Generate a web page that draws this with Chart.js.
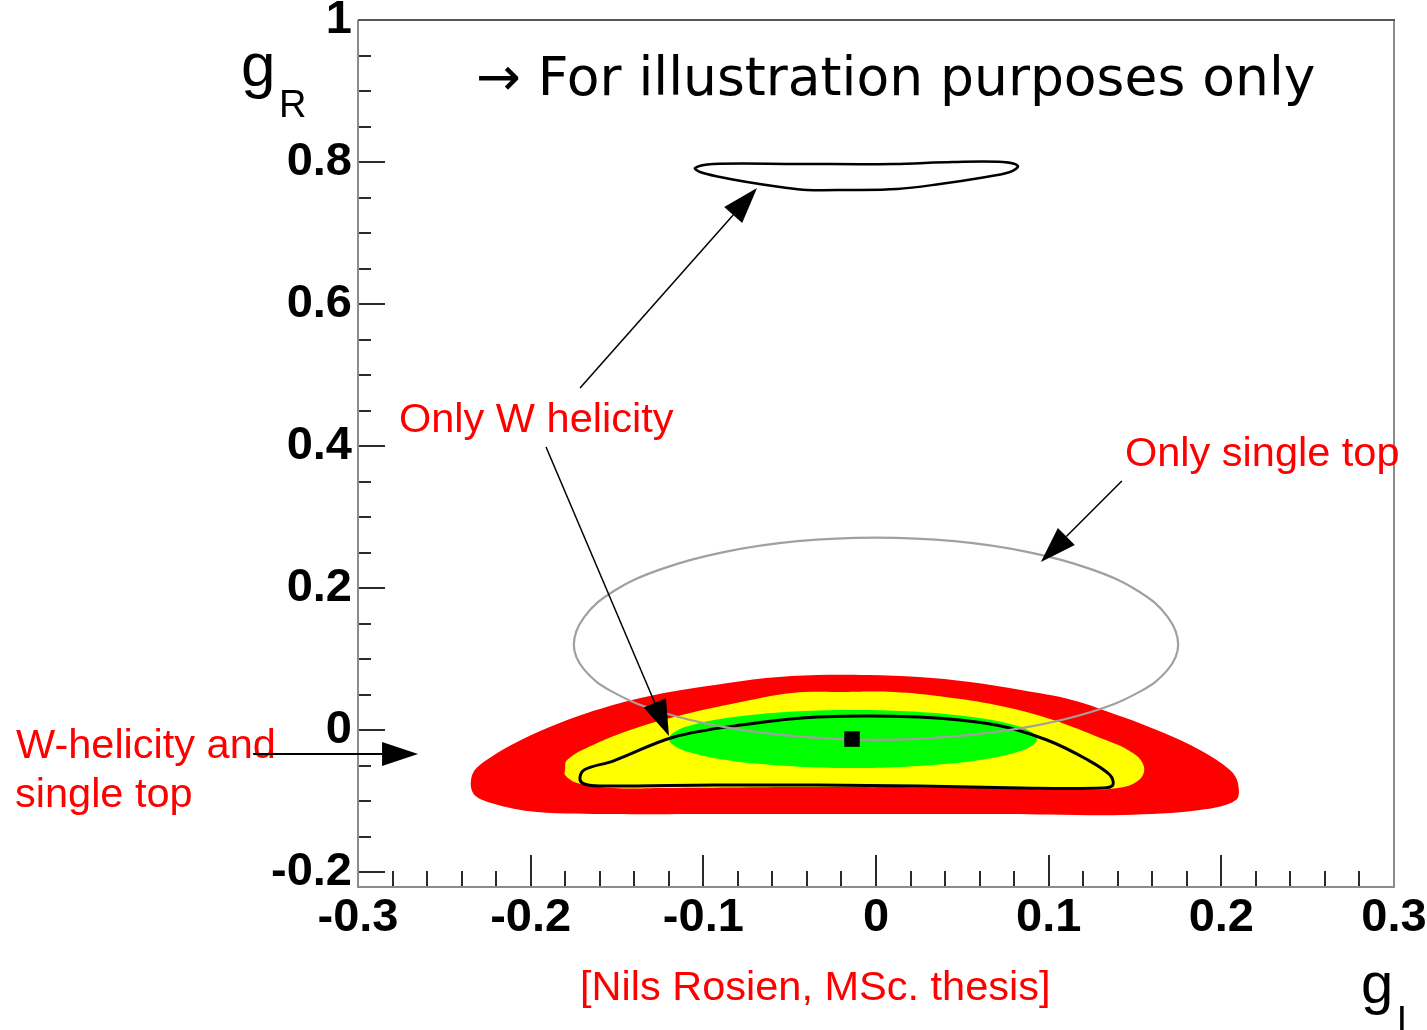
<!DOCTYPE html>
<html>
<head>
<meta charset="utf-8">
<title>gL - gR contours</title>
<script src="https://cdn.jsdelivr.net/npm/chart.js@4/dist/chart.umd.min.js"></script>
<style>
  html, body { margin: 0; padding: 0; background: #fff; }
  canvas { display: block; }
</style>
</head>
<body>
<canvas id="myChart" width="1427" height="1030"></canvas>
<script>
// axis ranges and ticks
const xRange = [-0.3, 0.3];
const yRange = [-0.2211, 1];
const xTickValues = [-0.3, -0.2, -0.1, 0, 0.1, 0.2, 0.3];
const xTickLabels = ['-0.3', '-0.2', '-0.1', '0', '0.1', '0.2', '0.3'];
const yTickValues = [-0.2, 0, 0.2, 0.4, 0.6, 0.8, 1];
const yTickLabels = ['-0.2', '0', '0.2', '0.4', '0.6', '0.8', '1'];

// combined fit, outer band (red)
const redContour = [
  [-0.2334, -0.0606], [-0.2229, -0.0380], [-0.2056, -0.0141], [-0.1818, 0.0113],
  [-0.1523, 0.0352], [-0.1228, 0.0521], [-0.0932, 0.0634], [-0.0637, 0.0732],
  [-0.0342, 0.0775], [-0.0046, 0.0775], [0.0249, 0.0746], [0.0544, 0.0676],
  [0.0840, 0.0563], [0.1135, 0.0423], [0.1430, 0.0183], [0.1668, -0.0042],
  [0.1876, -0.0282], [0.2050, -0.0563], [0.2096, -0.0746], [0.2085, -0.0986],
  [0.1876, -0.1127], [0.1430, -0.1197], [0.1000, -0.1190], [0.0544, -0.1183],
  [-0.0200, -0.1183], [-0.0921, -0.1183], [-0.1523, -0.1183], [-0.1963, -0.1155],
  [-0.2229, -0.1028], [-0.2334, -0.0887]
];
// middle band (yellow)
const yellowContour = [
  [-0.1801, -0.0563], [-0.1789, -0.0423], [-0.1639, -0.0211], [-0.1372, 0.0042],
  [-0.1077, 0.0239], [-0.0782, 0.0394], [-0.0486, 0.0521], [-0.0191, 0.0535],
  [0.0104, 0.0535], [0.0400, 0.0465], [0.0695, 0.0352], [0.0990, 0.0169],
  [0.1285, -0.0099], [0.1488, -0.0324], [0.1552, -0.0521], [0.1523, -0.0704],
  [0.1401, -0.0817], [0.1135, -0.0845], [0.0544, -0.0817], [-0.0342, -0.0803],
  [-0.1228, -0.0817], [-0.1523, -0.0817], [-0.1731, -0.0746], [-0.1801, -0.0634]
];
// inner band (green)
const greenContour = [
  [0.0932, -0.0127], [0.0896, -0.0021], [0.0789, 0.0077], [0.0620, 0.0161],
  [0.0400, 0.0226], [0.0143, 0.0267], [-0.0133, 0.0281], [-0.0409, 0.0267],
  [-0.0666, 0.0226], [-0.0886, 0.0161], [-0.1055, 0.0077], [-0.1162, -0.0021],
  [-0.1198, -0.0127], [-0.1162, -0.0233], [-0.1055, -0.0331], [-0.0886, -0.0415],
  [-0.0666, -0.0480], [-0.0409, -0.0521], [-0.0133, -0.0535], [0.0143, -0.0521],
  [0.0400, -0.0480], [0.0620, -0.0415], [0.0789, -0.0331], [0.0896, -0.0233]
];
// W-helicity + single top, black line
const combinedContour = [
  [-0.1714, -0.0704], [-0.1691, -0.0563], [-0.1523, -0.0437], [-0.1170, -0.0099],
  [-0.0782, 0.0070], [-0.0342, 0.0183], [0.0249, 0.0183], [0.0695, 0.0070],
  [0.0990, -0.0141], [0.1228, -0.0423], [0.1355, -0.0634], [0.1372, -0.0775],
  [0.1314, -0.0817], [0.0840, -0.0817], [0.0249, -0.0789], [-0.0342, -0.0775],
  [-0.0932, -0.0775], [-0.1523, -0.0789], [-0.1667, -0.0775]
];
// single top only, grey line
const singleTopContour = [
  [0.175, 0.120], [0.169, 0.159], [0.152, 0.1955], [0.124, 0.227],
  [0.0875, 0.251], [0.0453, 0.266], [0, 0.271], [-0.0453, 0.266],
  [-0.0875, 0.251], [-0.124, 0.227], [-0.152, 0.1955], [-0.169, 0.159],
  [-0.175, 0.120], [-0.169, 0.085], [-0.152, 0.053], [-0.124, 0.025],
  [-0.0875, 0.004], [-0.0453, -0.009], [0, -0.014], [0.0453, -0.009],
  [0.0875, 0.004], [0.124, 0.025], [0.152, 0.053], [0.169, 0.085]
];
// W helicity only, second solution near gR = 0.8
const wHelicityContour = [
  [-0.1048, 0.7915], [-0.0944, 0.7972], [-0.0452, 0.7972], [0.0098, 0.7972],
  [0.0446, 0.8000], [0.0735, 0.8000], [0.0822, 0.7944], [0.0776, 0.7859],
  [0.0602, 0.7775], [0.0371, 0.7690], [0.0122, 0.7620], [-0.0168, 0.7606],
  [-0.0400, 0.7606], [-0.0556, 0.7648], [-0.0747, 0.7718], [-0.0903, 0.7789],
  [-0.1019, 0.7859]
];
const bestFit = [[-0.0139, -0.0127]];

// annotation arrows, in axis units
const arrows = [
  { from: [-0.1714, 0.4817], to: [-0.0689, 0.7634], width: 1.5 },
  { from: [-0.1911, 0.3986], to: [-0.1199, -0.0085], width: 1.5 },
  { from: [0.1424, 0.3507], to: [0.0955, 0.2366], width: 1.5 },
  { from: [-0.3607, -0.0338], to: [-0.2652, -0.0338], width: 2 }
];

const toPoints = (pairs) => pairs.map(([x, y]) => ({ x, y }));

function contour(label, pairs, extra) {
  return Object.assign({
    label: label,
    data: toPoints(pairs),
    pointRadius: 0,
    tension: 0.4,
    fill: false,
    borderWidth: 0,
    closed: true
  }, extra);
}

function drawArrow(ctx, x0, y0, x1, y1, width) {
  const ang = Math.atan2(y1 - y0, x1 - x0);
  const len = 36, half = 12;
  const bx = x1 - len * Math.cos(ang);
  const by = y1 - len * Math.sin(ang);
  ctx.lineWidth = width;
  ctx.beginPath();
  ctx.moveTo(x0, y0);
  ctx.lineTo(bx, by);
  ctx.stroke();
  ctx.beginPath();
  ctx.moveTo(x1, y1);
  ctx.lineTo(bx + half * Math.sin(ang), by - half * Math.cos(ang));
  ctx.lineTo(bx - half * Math.sin(ang), by + half * Math.cos(ang));
  ctx.closePath();
  ctx.fill();
}

// closed curves: let the line element wrap around smoothly
const closeLoops = {
  id: 'closeLoops',
  afterDatasetsUpdate(chart) {
    chart.data.datasets.forEach((ds, i) => {
      if (!ds.closed) return;
      const line = chart.getDatasetMeta(i).dataset;
      line._loop = true;
      line._fullLoop = true;
      delete line._segments;
      delete line._path;
      line._pointsUpdated = false;
    });
  }
};

// frame, inward tick marks, titles, notes and arrows
const decorations = {
  id: 'decorations',
  afterDatasetsDraw(chart) {
    const { ctx, chartArea: a, scales } = chart;
    const xs = scales.x, ys = scales.y;
    ctx.save();

    ctx.strokeStyle = '#2a2a2a';
    ctx.lineWidth = 2;
    for (let i = -4; i <= 20; i++) {
      const py = Math.round(ys.getPixelForValue(i * 0.05));
      const len = i % 4 === 0 ? 27 : 13;
      ctx.beginPath();
      ctx.moveTo(a.left, py);
      ctx.lineTo(a.left + len, py);
      ctx.stroke();
    }
    for (let i = -15; i <= 15; i++) {
      const px = Math.round(xs.getPixelForValue(i * 0.02));
      const len = i % 5 === 0 ? 32 : 16;
      ctx.beginPath();
      ctx.moveTo(px, a.bottom);
      ctx.lineTo(px, a.bottom - len);
      ctx.stroke();
    }

    ctx.lineWidth = 2;
    ctx.strokeStyle = '#8c8c8c';
    ctx.beginPath();
    ctx.moveTo(a.left, a.top);
    ctx.lineTo(a.left, a.bottom);
    ctx.lineTo(a.right, a.bottom);
    ctx.lineTo(a.right, a.top);
    ctx.stroke();
    ctx.strokeStyle = '#555';
    ctx.beginPath();
    ctx.moveTo(a.left, a.top);
    ctx.lineTo(a.right + 1, a.top);
    ctx.stroke();

    // axis titles
    ctx.fillStyle = '#000';
    ctx.textBaseline = 'alphabetic';
    ctx.textAlign = 'left';
    ctx.font = '62px "Liberation Sans", Arial, sans-serif';
    ctx.fillText('g', 241, 86);
    ctx.font = '38px "Liberation Sans", Arial, sans-serif';
    ctx.fillText('R', 279, 117);
    ctx.font = '58px "Liberation Sans", Arial, sans-serif';
    ctx.fillText('g', 1361, 1003);
    ctx.font = '38px "Liberation Sans", Arial, sans-serif';
    ctx.fillText('L', 1397, 1033);

    ctx.font = '53.5px "DejaVu Sans", sans-serif';
    ctx.fillText('\u2192 For illustration purposes only', 476, 95);

    ctx.fillStyle = '#ff0000';
    ctx.font = '41.5px "Liberation Sans", Arial, sans-serif';
    ctx.fillText('Only W helicity', 399, 432);
    ctx.fillText('Only single top', 1125, 466);
    ctx.fillText('W-helicity and', 16, 758);
    ctx.fillText('single top', 15, 807);
    ctx.fillText('[Nils Rosien, MSc. thesis]', 580, 1000);

    ctx.fillStyle = '#000';
    ctx.strokeStyle = '#000';
    arrows.forEach((arr) => {
      drawArrow(ctx,
        xs.getPixelForValue(arr.from[0]), ys.getPixelForValue(arr.from[1]),
        xs.getPixelForValue(arr.to[0]), ys.getPixelForValue(arr.to[1]),
        arr.width);
    });
    ctx.restore();
  }
};

const tickFont = { family: '"Liberation Sans", Arial, sans-serif', weight: 'bold', size: 47 };

const ctx = document.getElementById('myChart').getContext('2d');
const myChart = new Chart(ctx, {
  type: 'line',
  data: {
    datasets: [
      { label: 'best fit', data: toPoints(bestFit), showLine: false, pointStyle: 'rect',
        pointRadius: 11, backgroundColor: '#000', borderColor: '#000', borderWidth: 0, order: 0 },
      contour('W helicity', wHelicityContour, { borderColor: '#000', borderWidth: 2.5, tension: 0.35, order: 1 }),
      contour('single top', singleTopContour, { borderColor: '#a0a0a0', borderWidth: 2.2, order: 2 }),
      contour('combined', combinedContour, { borderColor: '#000', borderWidth: 3, tension: 0.35, order: 3 }),
      contour('1 sigma', greenContour, { backgroundColor: '#00ff00', fill: 'shape', order: 4 }),
      contour('2 sigma', yellowContour, { backgroundColor: '#ffff00', fill: 'shape', order: 5 }),
      contour('3 sigma', redContour, { backgroundColor: '#ff0000', fill: 'shape', tension: 0.35, order: 6 })
    ]
  },
  options: {
    responsive: false,
    animation: false,
    devicePixelRatio: 1,
    layout: { padding: { top: 20, right: 33, left: 0, bottom: 0 } },
    plugins: { legend: { display: false }, tooltip: { enabled: false } },
    events: [],
    scales: {
      x: {
        type: 'linear',
        min: xRange[0],
        max: xRange[1],
        grid: { display: false, drawTicks: false },
        border: { display: false },
        afterBuildTicks: (axis) => { axis.ticks = xTickValues.map((v) => ({ value: v })); },
        afterFit: (scale) => { scale.height = 143; scale.paddingLeft = 0; scale.paddingRight = 0; },
        ticks: {
          autoSkip: false,
          maxRotation: 0,
          padding: 3,
          color: '#000',
          font: Object.assign({ lineHeight: 1.2 }, tickFont),
          callback: (v, i) => xTickLabels[i]
        }
      },
      y: {
        type: 'linear',
        min: yRange[0],
        max: yRange[1],
        grid: { display: false, drawTicks: false },
        border: { display: false },
        afterBuildTicks: (axis) => { axis.ticks = yTickValues.map((v) => ({ value: v })); },
        afterFit: (scale) => { scale.width = 358; scale.paddingTop = 0; scale.paddingBottom = 0; },
        ticks: {
          autoSkip: false,
          padding: 6,
          color: '#000',
          font: Object.assign({ lineHeight: 1.0 }, tickFont),
          callback: (v, i) => yTickLabels[i]
        }
      }
    }
  },
  plugins: [closeLoops, decorations]
});
</script>
</body>
</html>
